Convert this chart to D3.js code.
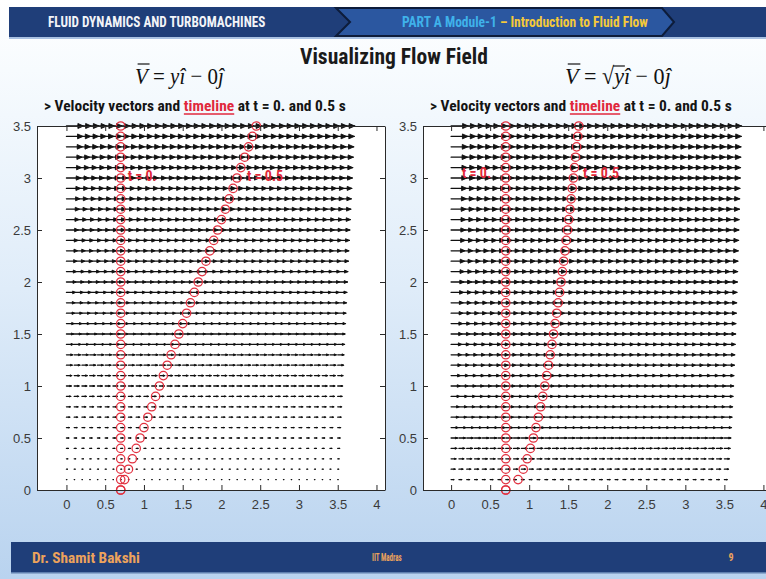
<!DOCTYPE html>
<html><head><meta charset="utf-8">
<script src="https://cdn.jsdelivr.net/npm/d3@7"></script>
<style>html,body{margin:0;padding:0;overflow:hidden;background:#fff}svg{display:block}text{white-space:pre}</style>
</head><body>
<script>
// ---------------- data ----------------
const gridX = [0,0.1,0.2,0.3,0.4,0.5,0.6,0.7,0.8,0.9,1.0,1.1,1.2,1.3,1.4,1.5,1.6,1.7,1.8,1.9,2.0,2.1,2.2,2.3,2.4,2.5,2.6,2.7,2.8,2.9,3.0,3.1,3.2,3.3,3.4,3.5];
const gridY = [0,0.1,0.2,0.3,0.4,0.5,0.6,0.7,0.8,0.9,1.0,1.1,1.2,1.3,1.4,1.5,1.6,1.7,1.8,1.9,2.0,2.1,2.2,2.3,2.4,2.5,2.6,2.7,2.8,2.9,3.0,3.1,3.2,3.3,3.4,3.5];
// horizontal velocity u for each row of gridY
const leftSpeed = [0,0.1,0.2,0.3,0.4,0.5,0.6,0.7,0.8,0.9,1.0,1.1,1.2,1.3,1.4,1.5,1.6,1.7,1.8,1.9,2.0,2.1,2.2,2.3,2.4,2.5,2.6,2.7,2.8,2.9,3.0,3.1,3.2,3.3,3.4,3.5];
const rightSpeed = [0,0.316,0.447,0.548,0.632,0.707,0.775,0.837,0.894,0.949,1.0,1.049,1.095,1.140,1.183,1.225,1.265,1.304,1.342,1.378,1.414,1.449,1.483,1.517,1.549,1.581,1.612,1.643,1.673,1.703,1.732,1.761,1.789,1.817,1.844,1.871];
// timeline marker x positions (one per gridY row)
const leftT0X  = [0.7,0.7,0.7,0.7,0.7,0.7,0.7,0.7,0.7,0.7,0.7,0.7,0.7,0.7,0.7,0.7,0.7,0.7,0.7,0.7,0.7,0.7,0.7,0.7,0.7,0.7,0.7,0.7,0.7,0.7,0.7,0.7,0.7,0.7,0.7,0.7];
const leftT05X = [0.70,0.75,0.80,0.85,0.90,0.95,1.00,1.05,1.10,1.15,1.20,1.25,1.30,1.35,1.40,1.45,1.50,1.55,1.60,1.65,1.70,1.75,1.80,1.85,1.90,1.95,2.00,2.05,2.10,2.15,2.20,2.25,2.30,2.35,2.40,2.45];
const rightT0X  = [0.7,0.7,0.7,0.7,0.7,0.7,0.7,0.7,0.7,0.7,0.7,0.7,0.7,0.7,0.7,0.7,0.7,0.7,0.7,0.7,0.7,0.7,0.7,0.7,0.7,0.7,0.7,0.7,0.7,0.7,0.7,0.7,0.7,0.7,0.7,0.7];
const rightT05X = [0.7,0.858,0.924,0.974,1.016,1.054,1.087,1.118,1.147,1.174,1.2,1.224,1.248,1.270,1.292,1.312,1.332,1.352,1.371,1.389,1.407,1.425,1.442,1.458,1.475,1.491,1.506,1.521,1.537,1.551,1.566,1.580,1.594,1.608,1.622,1.635];
const xTicks = [0,0.5,1,1.5,2,2.5,3,3.5,4];
const xTickLabels = ["0","0.5","1","1.5","2","2.5","3","3.5","4"];
const yTicks = [0,0.5,1,1.5,2,2.5,3,3.5];
const yTickLabels = ["0","0.5","1","1.5","2","2.5","3","3.5"];

// ---------------- drawing ----------------
const W = 766, H = 579;
const svg = d3.select("body").append("svg").attr("width", W).attr("height", H);
const defs = svg.append("defs");
const bg = defs.append("linearGradient").attr("id","bg").attr("x1",0).attr("y1",0).attr("x2",0).attr("y2",1);
bg.append("stop").attr("offset","0").attr("stop-color","#ffffff");
bg.append("stop").attr("offset","0.12").attr("stop-color","#f7fbfe");
bg.append("stop").attr("offset","0.5").attr("stop-color","#dfecf9");
bg.append("stop").attr("offset","1").attr("stop-color","#b9d3ef");
svg.append("rect").attr("width",W).attr("height",H).attr("fill","url(#bg)");

const condensed = "'Liberation Sans Narrow','Roboto Condensed','Roboto','DejaVu Sans Condensed',sans-serif";

function fit(g, x, width) {
  const b = g.node().getBBox();
  const sx = width / b.width;
  g.attr("transform", `translate(${x},0) scale(${sx},1) translate(${-b.x},0)`);
}
function seq(g, pieces, baseline) {
  let cx = 0; const out = [];
  pieces.forEach(p => {
    const t = g.append("text").attr("x", cx).attr("y", baseline).attr("xml:space","preserve").text(p.t)
      .attr("font-family", p.ff).attr("font-size", p.fs).attr("fill", p.c || "#111")
      .attr("font-weight", p.fw || "normal").attr("font-style", p.fi || "normal");
    const w = t.node().getComputedTextLength();
    out.push({x: cx, w});
    cx += w + (p.gap || 0);
  });
  return out;
}

// header
svg.append("rect").attr("x",9).attr("y",7).attr("width",W-9).attr("height",30).attr("fill","#1f3e79");
svg.append("rect").attr("x",9).attr("y",37).attr("width",W-9).attr("height",2).attr("fill","#a9c1e2");
svg.append("polygon").attr("points","336,8 662,8 674,22 662,36 336,36 350,22")
  .attr("fill","#2b57a0").attr("stroke","#0d1c3a").attr("stroke-width",2);
const h1 = svg.append("g");
h1.append("text").attr("y",27).text("FLUID DYNAMICS AND TURBOMACHINES")
  .attr("font-family",condensed).attr("font-weight","bold").attr("font-size",14).attr("fill","#f2f4f8");
fit(h1, 48, 218);
const h2 = svg.append("g");
seq(h2, [
  {t:"PART A Module-1 ", ff:condensed, fs:14, fw:"bold", c:"#3fb2ea"},
  {t:"– Introduction to Fluid Flow", ff:condensed, fs:14, fw:"bold", c:"#f4c93a"}
], 27);
fit(h2, 402, 246);

// title
const tg = svg.append("g");
tg.append("text").attr("y",64).text("Visualizing Flow Field")
  .attr("font-family",condensed).attr("font-weight","bold").attr("font-size",22).attr("fill","#1a1a1a");
fit(tg, 300, 188);

// equations
const serif = "'Liberation Serif','DejaVu Serif',serif";
function equation(x, width, withSqrt) {
  const g = svg.append("g");
  const pieces = [
    {t:"V", ff:serif, fs:24, fi:"italic"},
    {t:" = ", ff:serif, fs:24}
  ];
  if (withSqrt) pieces.push({t:"√", ff:serif, fs:24});
  pieces.push({t:"y", ff:serif, fs:24, fi:"italic"});
  pieces.push({t:"î", ff:serif, fs:24, fi:"italic"});
  pieces.push({t:" − 0", ff:serif, fs:24});
  pieces.push({t:"ĵ", ff:serif, fs:24, fi:"italic"});
  const pos = seq(g, pieces, 84);
  g.append("line").attr("x1",pos[0].x+3).attr("x2",pos[0].x+pos[0].w+2).attr("y1",64).attr("y2",64)
    .attr("stroke","#111").attr("stroke-width",1.2);
  if (withSqrt) {
    g.append("line").attr("x1",pos[2].x+pos[2].w-1).attr("x2",pos[3].x+pos[3].w+1).attr("y1",66).attr("y2",66)
      .attr("stroke","#111").attr("stroke-width",1.2);
  }
  fit(g, x, width);
}
equation(135, 90, false);
equation(565, 107, true);

// subtitles
function subtitle(x, width) {
  const g = svg.append("g");
  const pos = seq(g, [
    {t:"> Velocity vectors and ", ff:condensed, fs:15, fw:"bold", c:"#141414"},
    {t:"timeline", ff:condensed, fs:15, fw:"bold", c:"#e0283c"},
    {t:" at t = 0. and 0.5 s", ff:condensed, fs:15, fw:"bold", c:"#141414"}
  ], 111);
  g.append("line").attr("x1",pos[1].x).attr("x2",pos[1].x+pos[1].w).attr("y1",114).attr("y2",114)
    .attr("stroke","#e0283c").attr("stroke-width",1.4);
  fit(g, x, width);
}
subtitle(44, 302);
subtitle(430, 302);

// panels
function panel(x0, x1, xDomain, speed, t0X, t05X, labels) {
  const x = d3.scaleLinear().domain(xDomain).range([x0, x1]);
  const y = d3.scaleLinear().domain([0, 3.5]).range([490, 126]);
  const g = svg.append("g");
  g.append("rect").attr("x",x0).attr("y",126).attr("width",x1-x0).attr("height",364).attr("fill","#ffffff");

  // quiver
  const maxSpeed = d3.max(speed);
  const arrowScale = 0.22 / maxSpeed; // longest arrow in data units
  const shafts = d3.path(), heads = d3.path();
  gridY.forEach((yy, j) => {
    const u = speed[j] * arrowScale;
    if (u <= 0) return;
    gridX.forEach(xx => {
      const xe = xx + u;
      shafts.moveTo(x(xx), y(yy)); shafts.lineTo(x(xe), y(yy));
      const hb = xe - 0.33 * u, hw = 0.33 * 0.33 * u;
      heads.moveTo(x(hb), y(yy + hw)); heads.lineTo(x(xe), y(yy)); heads.lineTo(x(hb), y(yy - hw)); heads.closePath();
    });
  });
  g.append("path").attr("d", shafts.toString()).attr("fill","none").attr("stroke","#111")
    .attr("stroke-width",1.3).attr("stroke-linecap","round");
  g.append("path").attr("d", heads.toString()).attr("fill","#111").attr("stroke","#111")
    .attr("stroke-width",0.9).attr("stroke-linejoin","round");

  // timelines
  [t0X, t05X].forEach(arr => {
    g.selectAll(null).data(gridY).enter().append("circle")
      .attr("cx", (d, i) => x(arr[i])).attr("cy", d => y(d)).attr("r", 4.2)
      .attr("fill","none").attr("stroke","#e2303f").attr("stroke-width",1.25);
  });

  // labels
  labels.forEach(l => {
    g.append("text").attr("x", x(l.x)).attr("y", y(l.y)).attr("dy","0.35em").attr("xml:space","preserve").text(l.t)
      .attr("font-family",condensed).attr("font-weight","bold").attr("font-size",14)
      .attr("fill","#e2283a");
  });

  // axes
  const ax = svg.append("g").attr("font-family","'Liberation Sans Narrow','Liberation Sans',sans-serif");
  const bottom = ax.append("g").attr("transform","translate(0,490)")
    .call(d3.axisBottom(x).tickValues(xTicks).tickFormat((d,i)=>xTickLabels[i]).tickSizeInner(-5).tickSizeOuter(0).tickPadding(10));
  const top = ax.append("g").attr("transform","translate(0,126)")
    .call(d3.axisTop(x).tickValues(xTicks).tickFormat("").tickSizeInner(-5).tickSizeOuter(0));
  const left = ax.append("g").attr("transform",`translate(${x0},0)`)
    .call(d3.axisLeft(y).tickValues(yTicks).tickFormat((d,i)=>yTickLabels[i]).tickSizeInner(-5).tickSizeOuter(0).tickPadding(6));
  const right = ax.append("g").attr("transform",`translate(${x1},0)`)
    .call(d3.axisRight(y).tickValues(yTicks).tickFormat("").tickSizeInner(-5).tickSizeOuter(0));
  [bottom, top, left, right].forEach(a => {
    a.select(".domain").attr("stroke","#2a2a2a").attr("stroke-width",1);
    a.selectAll(".tick line").attr("stroke","#2a2a2a");
  });
  bottom.select(".domain").attr("d", `M${x0},0.5H${x1}`);
  top.select(".domain").attr("d", `M${x0},0.5H${x1}`);
  ax.selectAll(".tick text").attr("font-size",13).attr("fill","#3a3a3a");
}

panel(37, 385, [-0.38, 4.11], leftSpeed, leftT0X, leftT05X,
  [{t:"t = 0.", x:0.79, y:3.02}, {t:"t = 0.5", x:2.33, y:3.02}]);
panel(423, 772, [-0.36, 4.11], rightSpeed, rightT0X, rightT05X,
  [{t:"t = 0.", x:0.14, y:3.05}, {t:"t = 0.5", x:1.69, y:3.05}]);

// footer
svg.append("rect").attr("x",11).attr("y",542).attr("width",W-11).attr("height",31).attr("fill","#1f3e79");
svg.append("rect").attr("x",11).attr("y",572).attr("width",W-11).attr("height",1.5).attr("fill","#5f7fae");
const f1 = svg.append("g");
f1.append("text").attr("y",563).text("Dr. Shamit Bakshi").attr("font-family",condensed)
  .attr("font-weight","bold").attr("font-size",15).attr("fill","#eda35c");
fit(f1, 32, 108);
const f2 = svg.append("g");
f2.append("text").attr("y",561).text("IIT Madras").attr("font-family",condensed)
  .attr("font-weight","bold").attr("font-size",10).attr("fill","#eda35c");
fit(f2, 372, 30);
svg.append("text").attr("x",731).attr("y",561).text("9").attr("font-family",condensed)
  .attr("font-weight","bold").attr("font-size",10).attr("fill","#eda35c").attr("text-anchor","middle");
</script>
</body></html>
